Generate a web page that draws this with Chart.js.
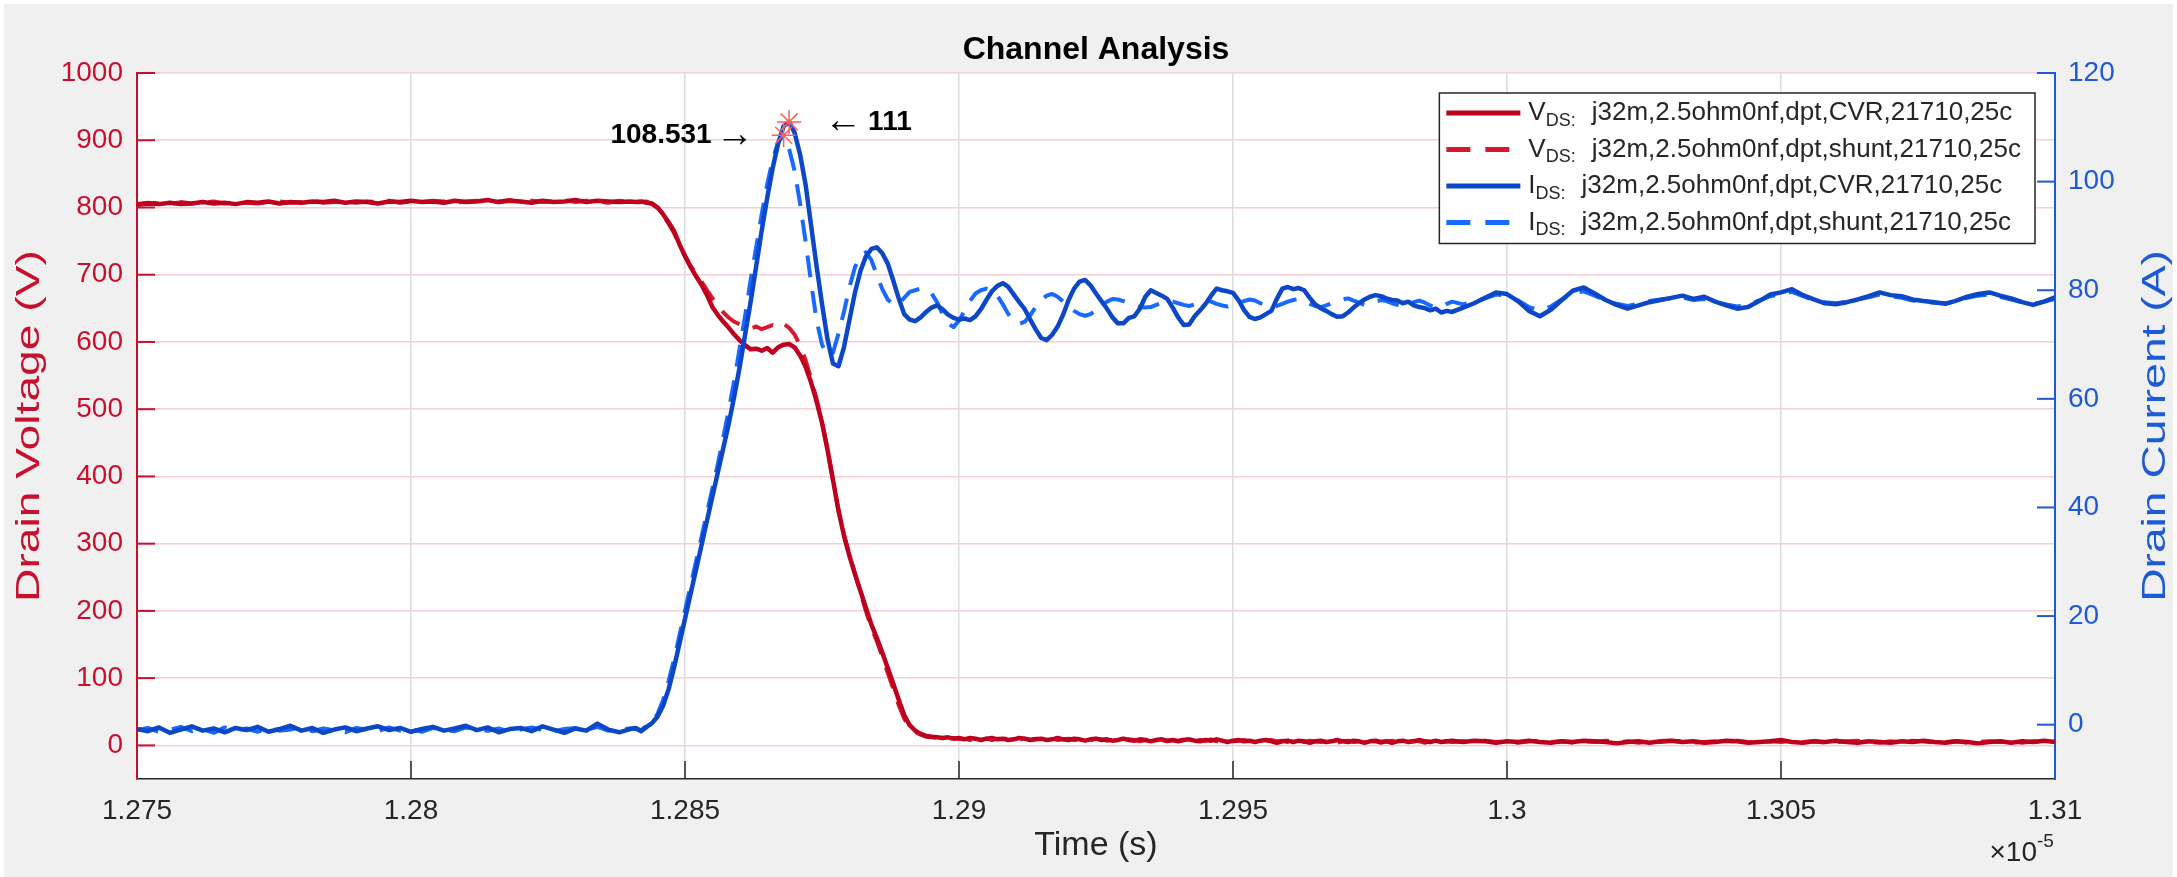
<!DOCTYPE html>
<html>
<head>
<meta charset="utf-8">
<title>Channel Analysis</title>
<script src="https://cdn.jsdelivr.net/npm/chart.js@4.4.1/dist/chart.umd.min.js"></script>
<style>
  html, body { margin: 0; padding: 0; background: #ffffff; }
  canvas { display: block; }
</style>
</head>
<body>
<canvas id="chart" width="2177" height="877" style="width:2177px;height:877px"></canvas>
<script>
// Sample instants, in units of 1e-5 s (coarse before and after the switching edge, fine across it)
const sampleTimes = [
  1.2750,1.2752,1.2754,1.2756,1.2758,1.2760,1.2762,1.2764,1.2766,1.2768,
  1.2770,1.2772,1.2774,1.2776,1.2778,1.2780,1.2782,1.2784,1.2786,1.2788,
  1.2790,1.2792,1.2794,1.2796,1.2798,1.2800,1.2802,1.2804,1.2806,1.2808,
  1.2810,1.2812,1.2814,1.2816,1.2818,1.2820,1.2822,1.2824,1.2826,1.2828,
  1.2830,1.2832,1.2834,1.2836,1.2838,1.2840,
  1.2841,1.2842,1.2843,1.2844,1.2845,1.2846,1.2847,1.2848,1.2849,1.2850,
  1.2851,1.2852,1.2853,1.2854,1.2855,1.2856,1.2857,1.2858,1.2859,1.2860,
  1.2861,1.2862,1.2863,1.2864,1.2865,1.2866,1.2867,1.2868,1.2869,1.2870,
  1.2871,1.2872,1.2873,1.2874,1.2875,1.2876,1.2877,1.2878,1.2879,1.2880,
  1.2881,1.2882,1.2883,1.2884,1.2885,1.2886,1.2887,1.2888,1.2889,1.2890,
  1.2891,1.2892,1.2893,1.2894,1.2895,1.2896,1.2897,1.2898,1.2899,1.2900,
  1.2901,1.2902,1.2903,1.2904,1.2905,1.2906,1.2907,1.2908,1.2909,1.2910,
  1.2911,1.2912,1.2913,1.2914,1.2915,1.2916,1.2917,1.2918,1.2919,1.2920,
  1.2921,1.2922,1.2923,1.2924,1.2925,1.2926,1.2927,1.2928,1.2929,1.2930,
  1.2931,1.2932,1.2933,1.2934,1.2935,1.2936,1.2937,1.2938,1.2939,1.2940,
  1.2941,1.2942,1.2943,1.2944,1.2945,1.2946,1.2947,1.2948,1.2949,1.2950,
  1.2951,1.2952,1.2953,1.2954,1.2955,1.2956,1.2957,1.2958,1.2959,1.2960,
  1.2961,1.2962,1.2963,1.2964,1.2965,1.2966,1.2967,1.2968,1.2969,1.2970,
  1.2971,1.2972,1.2973,1.2974,1.2975,1.2976,1.2977,1.2978,1.2979,1.2980,
  1.2981,1.2982,1.2983,1.2984,1.2985,1.2986,1.2987,1.2988,1.2989,1.2990,
  1.2992,1.2994,1.2996,1.2998,1.3000,1.3002,1.3004,1.3006,1.3008,1.3010,
  1.3012,1.3014,1.3016,1.3018,1.3020,1.3022,1.3024,1.3026,1.3028,1.3030,
  1.3032,1.3034,1.3036,1.3038,1.3040,1.3042,1.3044,1.3046,1.3048,1.3050,
  1.3052,1.3054,1.3056,1.3058,1.3060,1.3062,1.3064,1.3066,1.3068,1.3070,
  1.3072,1.3074,1.3076,1.3078,1.3080,1.3082,1.3084,1.3086,1.3088,1.3090,
  1.3092,1.3094,1.3096,1.3098,1.3100
];

// Drain-source voltage (V), CVR probe
const vdsCvr = [
  804,806,805,807,805,806,808,806,807,805,
  808,807,809,806,808,807,809,808,810,807,
  809,808,806,809,808,810,808,809,807,810,
  808,809,811,808,810,809,807,810,808,809,
  811,808,810,809,808,809,
  808,809,807,806,800,790,778,765,745,728,
  712,698,685,670,652,640,630,621,611,602,
  595,589,590,587,591,584,592,596,597,592,
  580,563,540,512,480,440,395,350,312,282,
  255,230,205,180,160,138,115,92,68,45,
  30,22,17,14,13,12,11,12,10,11,
  9,11,10,8,10,11,9,10,8,9,
  11,10,8,9,10,8,9,11,9,8,
  10,9,7,9,10,8,9,7,8,10,
  8,7,9,8,6,8,9,7,8,6,
  8,9,7,6,8,7,9,7,5,7,
  8,6,7,5,7,8,6,4,6,7,
  5,7,6,4,6,7,5,6,8,6,
  5,7,6,4,6,7,5,6,4,6,
  7,5,6,8,6,5,7,5,6,7,
  5,7,6,4,6,5,7,5,4,6,
  5,7,6,5,3,5,6,4,6,7,
  5,6,4,5,7,6,4,5,6,8,
  5,4,6,5,7,5,4,6,5,4,
  6,5,7,5,4,6,5,3,5,6,
  4,6,5,7,5
];

// Drain-source voltage (V), shunt
const vdsShunt = [
  805,807,806,805,808,806,807,809,806,808,
  807,806,808,809,807,808,810,807,808,809,
  807,809,808,810,807,809,808,810,809,807,
  809,810,808,809,811,808,810,808,809,811,
  808,810,809,807,810,808,
  807,808,809,805,799,789,776,762,744,727,
  713,701,690,677,665,654,644,636,630,626,
  623,620,623,619,622,625,621,627,621,611,
  595,573,546,515,481,440,394,349,314,283,
  256,228,200,176,155,132,108,84,60,40,
  27,20,16,13,12,11,12,10,11,10,
  10,8,11,9,10,8,10,9,11,8,
  9,10,8,10,9,7,10,8,9,10,
  8,9,7,8,10,9,7,8,9,7,
  9,8,6,8,9,7,8,6,8,7,
  9,7,6,8,7,9,6,7,8,6,
  7,8,6,7,5,7,8,6,7,5,
  6,7,5,7,6,5,7,6,4,6,
  7,5,6,7,5,6,4,6,7,5,
  6,5,7,6,4,6,7,5,6,5,
  6,5,7,5,6,4,6,7,5,6,
  4,6,5,7,5,6,4,6,5,7,
  6,4,5,6,5,7,5,4,6,5,
  7,5,6,4,5,6,7,5,4,6,
  5,7,6,4,5,6,4,5,6,5,
  6,4,6,5,6
];

// Drain current (A), CVR probe
const idsCvr = [
  -0.8,-1.2,-0.5,-1.5,-0.9,-0.3,-1.1,-0.7,-1.4,-0.6,
  -1.0,-0.4,-1.3,-0.8,-0.2,-1.1,-0.6,-1.5,-0.9,-0.5,
  -1.2,-0.7,-0.3,-1.0,-0.6,-1.3,-0.8,-0.4,-1.1,-0.7,
  -0.2,-1.0,-0.5,-1.4,-0.8,-0.6,-1.2,-0.3,-0.9,-1.5,
  -0.7,-1.1,0.2,-0.9,-1.4,-0.8,
  -0.6,-1.2,-0.4,0.3,1.5,3.5,6.5,10.5,15,19.5,
  24,28.5,33,37.5,42,46.5,51,55.5,60.5,66,
  72,78,84.5,91,97,102.5,107,110.2,111,109,
  105,99.5,92,84.5,77.5,71,66.5,66,69.5,74.5,
  79.5,83.5,86.2,87.6,87.9,86.8,84.9,81.8,78.5,75.6,
  74.6,74.3,75.0,76.0,76.8,77.2,76.5,75.5,74.9,74.6,
  74.8,74.5,75.2,76.5,78.2,79.8,80.8,81.3,80.6,79.2,
  77.8,76.5,74.6,72.8,71.2,70.8,71.8,73.3,75.5,78.2,
  80.3,81.6,81.9,80.9,79.4,78.0,76.6,75.0,73.9,73.9,
  74.9,75.2,76.6,78.8,80.0,79.5,79.0,78.4,76.8,75.0,
  73.6,73.7,75.2,76.3,77.5,79.0,80.3,80.0,79.8,79.5,
  78.2,76.4,75.1,74.7,75.0,75.6,76.2,78.4,80.3,80.6,
  80.2,80.4,80.0,78.6,77.4,76.7,76.2,75.6,75.1,75.2,
  75.9,76.8,77.6,78.3,78.8,79.1,78.9,78.5,78.2,78.1,
  77.6,77.9,77.2,76.9,76.7,76.3,76.6,75.9,76.2,76.0,
  76.8,77.6,78.6,79.6,79.3,78.0,76.2,75.2,76.4,78.2,
  79.9,80.5,79.4,78.2,77.3,76.6,77.2,77.8,78.2,78.6,
  79.0,78.4,78.8,77.9,77.2,76.6,76.9,78.0,79.2,79.6,
  80.2,79.1,78.3,77.6,77.4,77.8,78.3,78.9,79.6,79.1,
  78.9,78.3,78.0,77.8,77.5,78.1,78.8,79.3,79.6,79.0,
  78.5,77.8,77.3,77.9,78.7
];

// Drain current (A), shunt
const idsShunt = [
  -1.0,-0.6,-1.3,-0.9,-0.4,-1.2,-0.8,-1.5,-0.5,-1.0,
  -0.7,-1.3,-0.6,-1.1,-0.9,-0.4,-1.2,-0.7,-1.0,-1.4,
  -0.6,-0.9,-1.2,-0.5,-1.1,-0.8,-1.3,-0.6,-0.9,-1.2,
  -0.5,-0.8,-1.1,-0.7,-1.3,-0.9,-0.5,-1.0,-1.2,-0.8,
  -0.6,-1.0,-0.4,-1.1,-0.9,-0.7,
  -0.8,-1.0,-0.2,0.5,2.0,4.5,8.0,12.0,16.5,21.0,
  25.5,30.0,34.5,39.0,43.5,48.0,53.0,58.0,63.5,69.5,
  75.5,82.0,88.0,94.0,99.5,104.0,107.3,108.531,106.0,102.0,
  96.0,89.0,81.5,74.5,70.0,67.8,68.5,72.0,76.0,80.5,
  84.2,86.4,87.0,85.6,82.8,80.2,78.3,77.3,77.4,78.6,
  79.7,80.0,80.3,80.1,79.4,77.8,75.6,73.9,73.2,74.4,
  76.2,78.0,79.4,80.0,80.3,80.1,79.0,77.4,75.6,74.3,
  73.8,74.2,75.4,76.9,78.2,79.0,79.3,78.8,77.9,77.0,
  76.2,75.6,75.3,75.6,76.3,77.1,77.9,78.4,78.3,78.0,
  77.6,77.2,76.9,76.8,76.9,77.3,77.7,78.0,77.9,77.6,
  77.3,77.1,77.4,77.8,78.1,77.9,77.5,77.2,77.0,77.3,
  77.7,78.0,78.3,78.1,77.6,77.2,76.9,77.1,77.5,77.9,
  78.2,78.4,78.0,77.5,77.1,76.9,77.2,77.6,77.9,78.3,
  78.5,78.1,77.7,77.3,77.5,77.9,78.2,78.0,77.6,77.3,
  77.1,77.4,77.8,78.1,77.7,77.2,76.8,77.0,77.5,77.9,
  77.4,77.9,78.5,79.2,79.0,78.1,76.9,76.3,77.0,78.3,
  79.4,79.8,79.0,78.1,77.5,77.1,77.5,78.0,78.3,78.5,
  78.7,78.2,78.4,77.8,77.4,77.0,77.3,78.1,78.9,79.3,
  79.7,78.9,78.2,77.8,77.6,77.9,78.3,78.7,79.2,78.9,
  78.6,78.1,77.9,77.7,77.6,78.0,78.6,79.0,79.2,78.8,
  78.3,77.8,77.5,77.9,78.4
];

// Axis ranges and tick labels
const timeRange = [1.275, 1.31];
const timeStep = 0.005;
const timeTickLabels = ['1.275', '1.28', '1.285', '1.29', '1.295', '1.3', '1.305', '1.31'];
const timeExponent = '-5';
const voltageRange = [-50, 1000];
const voltageStep = 100;
const currentRange = [-10, 120];
const currentStep = 20;

// Text
const chartTitle = 'Channel Analysis';
const timeTitle = 'Time (s)';
const voltageTitle = 'Drain Voltage (V)';
const currentTitle = 'Drain Current (A)';
const legendSymbols = ['V', 'V', 'I', 'I'];
const legendSubscripts = ['DS', 'DS', 'DS', 'DS'];
const legendNames = [
  'j32m,2.5ohm0nf,dpt,CVR,21710,25c',
  'j32m,2.5ohm0nf,dpt,shunt,21710,25c',
  'j32m,2.5ohm0nf,dpt,CVR,21710,25c',
  'j32m,2.5ohm0nf,dpt,shunt,21710,25c'
];

// Styling
const FONT = "'Liberation Sans', Arial, Helvetica, sans-serif";
const TEXT_COLOR = '#262626';
const LEFT_AXIS_COLOR = '#c8102e';
const RIGHT_AXIS_COLOR = '#1d5bd6';
const SERIES_COLORS = ['#be001e', '#d8182d', '#0b47c6', '#1769ff'];
const DASH = [22, 14];
const TICK_SIZE = 28;
const TICK_LEN = 18;
const YTITLE_STRETCH = 1.4;

Chart.defaults.font.family = FONT;

const toPoints = vals => sampleTimes.map((t, i) => ({ x: t, y: vals[i] }));
const peakIndex = vals => vals.reduce((best, v, i) => (v > vals[best] ? i : best), 0);
const iPeakCvr = peakIndex(idsCvr);
const iPeakShunt = peakIndex(idsShunt);

const legendStyles = [
  { color: SERIES_COLORS[0], dash: [] },
  { color: SERIES_COLORS[1], dash: [24, 15] },
  { color: SERIES_COLORS[2], dash: [] },
  { color: SERIES_COLORS[3], dash: [24, 15] }
];

function strokeLine(ctx, x1, y1, x2, y2) {
  ctx.beginPath();
  ctx.moveTo(x1, y1);
  ctx.lineTo(x2, y2);
  ctx.stroke();
}

function drawVerticalTitle(ctx, text, cx, cy, color) {
  ctx.save();
  ctx.fillStyle = color;
  ctx.translate(cx, cy);
  ctx.rotate(-Math.PI / 2);
  ctx.scale(YTITLE_STRETCH, 1);
  ctx.fillText(text, 0, 0);
  ctx.restore();
}

// Figure background, axes decorations, legend and peak call-outs
const figureDecor = {
  id: 'figureDecor',
  beforeDraw(chart) {
    const { ctx, width, height, chartArea: a } = chart;
    ctx.save();
    ctx.fillStyle = '#ffffff';
    ctx.fillRect(0, 0, width, height);
    ctx.fillStyle = '#f0f0f0';
    ctx.fillRect(4, 4, width - 8, height - 4);
    ctx.fillStyle = '#ffffff';
    ctx.fillRect(a.left, a.top, a.right - a.left, a.bottom - a.top);
    ctx.restore();
  },
  afterDraw(chart) {
    const { ctx, chartArea: a, scales } = chart;
    const xS = scales.x, yL = scales.y, yR = scales.y1;
    ctx.save();

    // inward tick marks
    ctx.lineWidth = 1.5;
    ctx.strokeStyle = TEXT_COLOR;
    xS.ticks.forEach(t => {
      const px = xS.getPixelForValue(t.value);
      if (px <= a.left + 1 || px >= a.right - 1) return;
      strokeLine(ctx, px, a.bottom, px, a.bottom - TICK_LEN);
    });
    ctx.lineWidth = 2;
    ctx.strokeStyle = LEFT_AXIS_COLOR;
    yL.ticks.forEach(t => {
      if (t.value < 0) return;
      const py = yL.getPixelForValue(t.value);
      strokeLine(ctx, a.left, py, a.left + TICK_LEN, py);
    });
    ctx.strokeStyle = RIGHT_AXIS_COLOR;
    yR.ticks.forEach(t => {
      if (t.value < 0) return;
      const py = yR.getPixelForValue(t.value);
      strokeLine(ctx, a.right, py, a.right - TICK_LEN, py);
    });

    const midX = (a.left + a.right) / 2;
    const midY = (a.top + a.bottom) / 2;

    // title
    ctx.fillStyle = '#000000';
    ctx.font = `bold 32px ${FONT}`;
    ctx.textAlign = 'center';
    ctx.textBaseline = 'middle';
    ctx.fillText(chartTitle, midX, 50);

    // axis titles
    ctx.font = `34px ${FONT}`;
    ctx.fillStyle = TEXT_COLOR;
    ctx.fillText(timeTitle, midX, 846);
    ctx.font = `33px ${FONT}`;
    drawVerticalTitle(ctx, voltageTitle, 30, midY, LEFT_AXIS_COLOR);
    drawVerticalTitle(ctx, currentTitle, 2156, midY, RIGHT_AXIS_COLOR);

    // x exponent
    ctx.fillStyle = TEXT_COLOR;
    ctx.font = `${TICK_SIZE}px ${FONT}`;
    ctx.textAlign = 'right';
    ctx.fillText('\u00d710', a.right - 18, 853);
    ctx.font = `19px ${FONT}`;
    ctx.textAlign = 'left';
    ctx.fillText(timeExponent, a.right - 18, 842);

    // legend
    const lgFont = `26px ${FONT}`;
    const subFont = `18px ${FONT}`;
    const rows = legendNames.map((name, i) => {
      ctx.font = lgFont;
      const wSym = ctx.measureText(legendSymbols[i]).width;
      const wName = ctx.measureText(name).width;
      ctx.font = subFont;
      const wSub = ctx.measureText(legendSubscripts[i] + ':').width;
      return { wSym, wSub, wName, total: wSym + wSub + 16 + wName };
    });
    const maxRow = Math.max(...rows.map(r => r.total));
    const boxW = 89 + maxRow + 14;
    const boxRight = a.right - 20;
    const boxLeft = boxRight - boxW;
    const boxTop = a.top + 20;
    const rowH = 36.5;
    const boxH = 20 + rowH * 3 + 21;
    ctx.fillStyle = '#ffffff';
    ctx.fillRect(boxLeft, boxTop, boxW, boxH);
    ctx.strokeStyle = TEXT_COLOR;
    ctx.lineWidth = 1.5;
    ctx.setLineDash([]);
    ctx.strokeRect(boxLeft, boxTop, boxW, boxH);
    rows.forEach((r, i) => {
      const y = boxTop + 20 + i * rowH;
      ctx.strokeStyle = legendStyles[i].color;
      ctx.lineWidth = 5;
      ctx.setLineDash(legendStyles[i].dash);
      strokeLine(ctx, boxLeft + 7, y, boxLeft + 81, y);
      ctx.setLineDash([]);
      let x = boxLeft + 89;
      ctx.fillStyle = TEXT_COLOR;
      ctx.textAlign = 'left';
      ctx.textBaseline = 'middle';
      ctx.font = lgFont;
      ctx.fillText(legendSymbols[i], x, y);
      x += r.wSym;
      ctx.font = subFont;
      ctx.fillText(legendSubscripts[i] + ':', x, y + 8);
      x += r.wSub + 16;
      ctx.font = lgFont;
      ctx.fillText(legendNames[i], x, y);
    });

    // peak call-outs
    const arrowFont = `38px ${FONT}`;
    const noteBold = `bold 28px ${FONT}`;
    ctx.fillStyle = '#000000';
    ctx.textBaseline = 'middle';

    const px1 = xS.getPixelForValue(sampleTimes[iPeakCvr]);
    const py1 = yR.getPixelForValue(idsCvr[iPeakCvr]);
    ctx.font = arrowFont;
    ctx.textAlign = 'left';
    let nx = px1 + 35;
    ctx.fillText('\u2190', nx, py1);
    nx += ctx.measureText('\u2190').width + 6;
    ctx.font = noteBold;
    ctx.fillText(String(idsCvr[iPeakCvr]), nx, py1);

    const px2 = xS.getPixelForValue(sampleTimes[iPeakShunt]);
    const py2 = yR.getPixelForValue(idsShunt[iPeakShunt]);
    ctx.font = arrowFont;
    ctx.textAlign = 'right';
    const arrowW = ctx.measureText('\u2192').width;
    ctx.fillText('\u2192', px2 - 30, py2);
    ctx.font = noteBold;
    ctx.fillText(String(idsShunt[iPeakShunt]), px2 - 30 - arrowW - 4, py2);

    ctx.restore();
  }
};

const tickFont = { family: FONT, size: TICK_SIZE };

new Chart(document.getElementById('chart'), {
  type: 'line',
  data: {
    datasets: [
      {
        label: 'Peak markers',
        data: [
          { x: sampleTimes[iPeakCvr], y: idsCvr[iPeakCvr] },
          { x: sampleTimes[iPeakShunt], y: idsShunt[iPeakShunt] }
        ],
        yAxisID: 'y1',
        showLine: false,
        pointStyle: 'star',
        pointRadius: 12,
        pointBorderColor: '#ff5f5f',
        pointBackgroundColor: '#ff5f5f',
        pointBorderWidth: 1.5,
        order: 0
      },
      {
        label: 'I_DS: ' + legendNames[2],
        data: toPoints(idsCvr),
        yAxisID: 'y1',
        borderColor: SERIES_COLORS[2],
        borderWidth: 4.5,
        order: 1
      },
      {
        label: 'I_DS: ' + legendNames[3],
        data: toPoints(idsShunt),
        yAxisID: 'y1',
        borderColor: SERIES_COLORS[3],
        borderWidth: 4,
        borderDash: DASH,
        order: 2
      },
      {
        label: 'V_DS: ' + legendNames[0],
        data: toPoints(vdsCvr),
        yAxisID: 'y',
        borderColor: SERIES_COLORS[0],
        borderWidth: 4.5,
        order: 3
      },
      {
        label: 'V_DS: ' + legendNames[1],
        data: toPoints(vdsShunt),
        yAxisID: 'y',
        borderColor: SERIES_COLORS[1],
        borderWidth: 4,
        borderDash: DASH,
        order: 4
      }
    ]
  },
  options: {
    responsive: false,
    animation: false,
    devicePixelRatio: 1,
    events: [],
    layout: { padding: { top: 73, left: 0, right: 0, bottom: 0 } },
    elements: {
      point: { radius: 0 },
      line: { tension: 0, borderCapStyle: 'butt', borderJoinStyle: 'round' }
    },
    plugins: {
      legend: { display: false },
      title: { display: false },
      tooltip: { enabled: false }
    },
    scales: {
      x: {
        type: 'linear',
        position: 'bottom',
        min: timeRange[0],
        max: timeRange[1],
        afterFit: s => { s.height = 98; },
        ticks: {
          stepSize: timeStep,
          autoSkip: false,
          maxRotation: 0,
          padding: 15,
          color: TEXT_COLOR,
          font: tickFont,
          callback: v => timeTickLabels[Math.round((v - timeRange[0]) / timeStep)] ?? ''
        },
        grid: { color: '#dcdcdc', lineWidth: 1.5, drawTicks: false },
        border: { display: true, color: TEXT_COLOR, width: 1.5 }
      },
      y: {
        type: 'linear',
        position: 'left',
        min: voltageRange[0],
        max: voltageRange[1],
        afterFit: s => { s.width = 137; },
        ticks: {
          stepSize: voltageStep,
          padding: 14,
          color: LEFT_AXIS_COLOR,
          font: tickFont,
          callback: v => (v < 0 ? null : String(v))
        },
        grid: {
          color: c => (c.tick && c.tick.value < 0 ? 'rgba(0,0,0,0)' : '#f6cfd5'),
          lineWidth: 1.5,
          drawTicks: false
        },
        border: { display: true, color: LEFT_AXIS_COLOR, width: 2 }
      },
      y1: {
        type: 'linear',
        position: 'right',
        min: currentRange[0],
        max: currentRange[1],
        afterFit: s => { s.width = 122; },
        ticks: {
          stepSize: currentStep,
          padding: 13,
          color: RIGHT_AXIS_COLOR,
          font: tickFont,
          callback: v => (v < 0 ? null : String(v))
        },
        grid: { display: false, drawTicks: false },
        border: { display: true, color: RIGHT_AXIS_COLOR, width: 2 }
      }
    }
  },
  plugins: [figureDecor]
});
</script>
</body>
</html>
